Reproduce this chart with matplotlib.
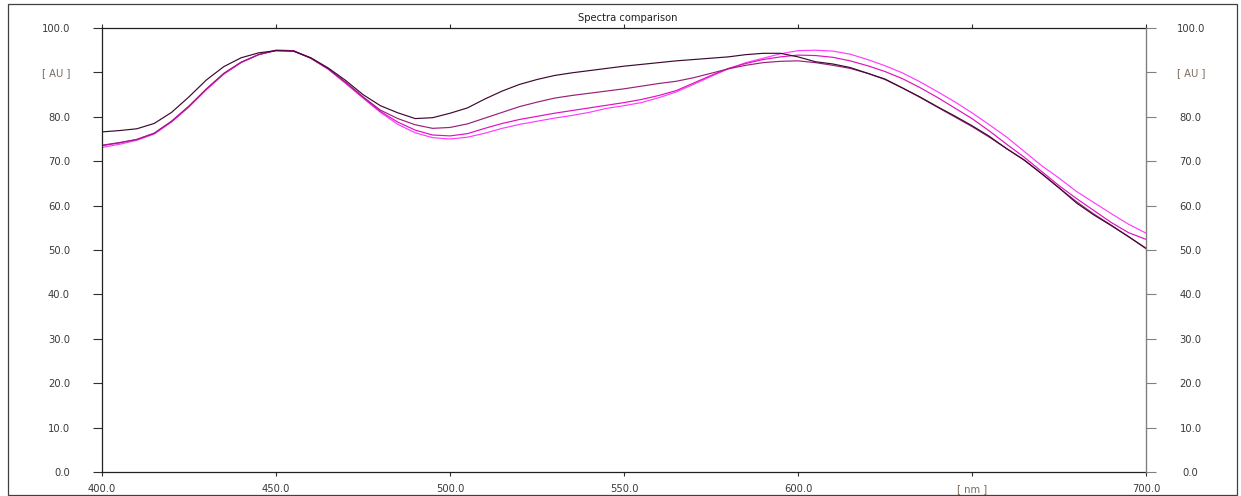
import numpy as np
import matplotlib
matplotlib.use("Agg")
import matplotlib.pyplot as plt
from matplotlib.patches import Rectangle

# Wavelength grid [nm]
wavelength = np.arange(400, 701, 5)

# Absorbance spectra [AU]
spec_a = [76.6, 76.9, 77.3, 78.5, 81.0, 84.5, 88.3, 91.3, 93.3, 94.4, 94.9,
          94.8, 93.3, 91.0, 88.2, 85.0, 82.5, 80.9, 79.6, 79.8, 80.8,
          82.0, 84.0, 85.8, 87.3, 88.4, 89.3, 89.9, 90.4, 90.9, 91.4,
          91.8, 92.2, 92.6, 92.9, 93.2, 93.5, 94.0, 94.3, 94.3, 93.5,
          92.4, 91.9, 91.1, 89.8, 88.5, 86.5, 84.5, 82.3, 80.2, 78.0,
          75.6, 72.8, 70.3, 67.2, 64.0, 60.6, 57.9, 55.5, 53.0, 50.4]
spec_b = [73.6, 74.2, 74.9, 76.3, 79.0, 82.4, 86.3, 89.8, 92.3, 94.0, 94.9,
          94.8, 93.2, 90.8, 87.8, 84.5, 81.5, 79.6, 78.2, 77.4, 77.6,
          78.4, 79.7, 81.0, 82.3, 83.3, 84.2, 84.8, 85.3, 85.8, 86.3,
          86.9, 87.5, 88.0, 88.8, 89.8, 90.8, 91.6, 92.2, 92.5, 92.6,
          92.2, 91.6, 90.9, 89.8, 88.4, 86.5, 84.4, 82.2, 80.0, 77.8,
          75.4, 72.8, 70.2, 67.2, 64.0, 60.9, 58.1, 55.6, 53.0, 50.3]
spec_c = [73.5, 74.1, 74.9, 76.3, 79.0, 82.4, 86.2, 89.7, 92.3, 94.0, 95.0,
          94.9, 93.2, 90.8, 87.7, 84.4, 81.2, 78.8, 77.0, 75.9, 75.7,
          76.2, 77.4, 78.5, 79.4, 80.1, 80.8, 81.4, 82.0, 82.6, 83.2,
          83.9, 84.8, 85.9, 87.6, 89.3, 90.9, 92.0, 92.9, 93.5, 93.9,
          93.8, 93.4, 92.6, 91.5, 90.2, 88.6, 86.6, 84.4, 82.0, 79.6,
          76.8, 73.8, 70.9, 67.7, 64.5, 61.6, 58.9, 56.2, 53.9, 52.4]
spec_d = [73.1, 73.8, 74.7, 76.1, 78.8, 82.2, 86.1, 89.6, 92.2, 94.0, 95.0,
          94.9, 93.2, 90.7, 87.5, 84.2, 81.0, 78.3, 76.4, 75.3, 75.0,
          75.4, 76.3, 77.4, 78.3, 79.0, 79.7, 80.3, 81.0, 81.9, 82.5,
          83.2, 84.3, 85.6, 87.3, 89.1, 90.8, 92.2, 93.2, 94.2, 94.9,
          95.0, 94.8, 94.1, 92.9, 91.5, 89.9, 87.9, 85.7, 83.4, 80.9,
          78.2, 75.4, 72.2, 69.0, 66.2, 63.2, 60.7, 58.2, 55.8, 53.8]

series = [spec_d, spec_c, spec_b, spec_a]
colors = ["#ff3cff", "#e010c0", "#98207a", "#3c0a30"]

x_ticks = [400, 450, 500, 550, 600, 650, 700]
x_labels = ["400.0", "450.0", "500.0", "550.0", "600.0", "[ nm ]", "700.0"]
y_ticks = [0, 10, 20, 30, 40, 50, 60, 70, 80, 90, 100]
y_labels = ["0.0", "10.0", "20.0", "30.0", "40.0", "50.0", "60.0",
            "70.0", "80.0", "[ AU ]", "100.0"]

plt.rcParams["font.family"] = ["DejaVu Sans"]
W, H = 1241, 496
fig = plt.figure(figsize=(W / 100, H / 100), dpi=100)

left, right, bottom, top = 102, 1146, 472, 28
ax = fig.add_axes([left / W, 1 - bottom / H, (right - left) / W, (bottom - top) / H])

for ys, c in zip(series, colors):
    ax.plot(wavelength, ys, color=c, lw=0.85)

ax.set_xlim(400, 700)
ax.set_ylim(0, 100)

label_color = "#3a3a3a"
unit_color = "#7a6a5a"
fs = 7.2

ax.set_xticks(x_ticks)
ax.set_xticklabels(x_labels)
ax.set_yticks(y_ticks)
ax.set_yticklabels(y_labels)
ax.tick_params(axis="x", direction="out", top=True, bottom=True, length=3.2,
               width=0.8, color="#303030", pad=5.5, labelsize=fs,
               labelcolor=label_color)
ax.tick_params(axis="y", direction="out", left=True, right=False, length=6.5,
               width=0.8, color="#303030", pad=16.5, labelsize=fs,
               labelcolor=label_color)

for lab in ax.get_xticklabels():
    if lab.get_text().startswith("["):
        lab.set_color(unit_color)
for lab in ax.get_yticklabels():
    if lab.get_text().startswith("["):
        lab.set_color(unit_color)

for s in ["left", "top", "bottom"]:
    ax.spines[s].set_color("#202020")
    ax.spines[s].set_linewidth(0.9)
ax.spines["right"].set_visible(False)

# Mirrored value axis on the right
ax2 = ax.twinx()
ax2.set_ylim(0, 100)
ax2.set_yticks(y_ticks)
ax2.set_yticklabels(y_labels)
ax2.tick_params(axis="y", direction="out", length=7.2, width=0.8,
                color="#808080", pad=25, labelsize=fs, labelcolor=label_color)
for lab in ax2.get_yticklabels():
    lab.set_horizontalalignment("center")
    if lab.get_text().startswith("["):
        lab.set_color(unit_color)
for s in ["left", "top", "bottom"]:
    ax2.spines[s].set_visible(False)
ax2.spines["right"].set_color("#808080")
ax2.spines["right"].set_linewidth(1.0)

fig.text(628 / W, 1 - 18 / H, "Spectra comparison", ha="center", va="center",
         fontsize=fs, color="#202020")

# Outer frame
fig.patches.append(Rectangle((7.5 / W, 1.5 / H), (1237 - 7.5) / W, (494.5 - 3.5) / H,
                             transform=fig.transFigure, fill=False,
                             edgecolor="#404040", lw=0.9))

fig.savefig("out.png", dpi=100)
